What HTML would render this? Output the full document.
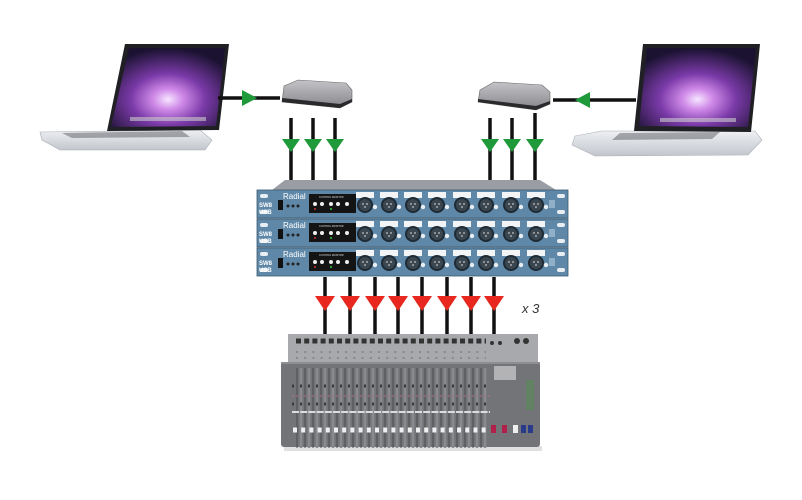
<!DOCTYPE html>
<html><head><meta charset="utf-8"><style>
html,body{margin:0;padding:0;background:#fff;}
svg{display:block;}
</style></head><body>
<svg width="802" height="500" viewBox="0 0 802 500" xmlns="http://www.w3.org/2000/svg" font-family="Liberation Sans, sans-serif">
<defs>
<radialGradient id="scr" cx="0.5" cy="0.65" r="0.65">
<stop offset="0" stop-color="#f6e6ff"/><stop offset="0.2" stop-color="#d08ae8"/><stop offset="0.5" stop-color="#7a3aa8"/><stop offset="1" stop-color="#1a1230"/>
</radialGradient>
<linearGradient id="base" x1="0" y1="0" x2="0" y2="1"><stop offset="0" stop-color="#eef0f3"/><stop offset="1" stop-color="#c2c6cc"/></linearGradient>
<linearGradient id="box" x1="0" y1="0" x2="0" y2="1"><stop offset="0" stop-color="#c4c4c8"/><stop offset="1" stop-color="#85858a"/></linearGradient>
<g id="xlr"><rect x="-9" y="-13" width="18" height="6" fill="#f2f4f6"/><circle r="8" fill="#1e2a34"/><circle r="6" fill="#3a4650"/><circle cx="-2" cy="-1" r="1" fill="#aaa"/><circle cx="2" cy="-1" r="1" fill="#aaa"/><circle cx="0" cy="2" r="1" fill="#aaa"/><circle cx="10" cy="2" r="2.2" fill="#e8eef2"/></g>
<g id="unit">
<rect x="257" y="0" width="311" height="28" fill="#5f88a8" stroke="#3c5a72" stroke-width="0.8"/>
<rect x="260" y="4" width="8" height="4" rx="2" fill="#e8eef2"/><rect x="260" y="20" width="8" height="4" rx="2" fill="#e8eef2"/>
<rect x="557" y="4" width="8" height="4" rx="2" fill="#e8eef2"/><rect x="557" y="20" width="8" height="4" rx="2" fill="#e8eef2"/>
<text x="259" y="17" font-size="6" font-weight="bold" fill="#fff">SW8</text><text x="259" y="24" font-size="6" font-weight="bold" fill="#fff">USB</text>
<rect x="278" y="10" width="5" height="10" fill="#111"/>
<text x="283" y="9" font-size="8" fill="#fff">Radial</text>
<circle cx="288" cy="16" r="1.5" fill="#222"/><circle cx="293" cy="16" r="1.5" fill="#222"/><circle cx="298" cy="16" r="1.5" fill="#222"/>
<rect x="309" y="4" width="47" height="19" fill="#141414"/>
<text x="319" y="8" font-size="2.5" fill="#ddd">CONTROL MONITOR</text>
<circle cx="315" cy="14" r="2" fill="#eee"/><circle cx="322" cy="14" r="2" fill="#eee"/><circle cx="331" cy="14" r="2" fill="#eee"/><circle cx="338" cy="14" r="2" fill="#eee"/><circle cx="347" cy="14" r="2" fill="#eee"/>
<circle cx="315" cy="19" r="1" fill="#c33"/><circle cx="331" cy="19" r="1" fill="#3c3"/>
<use href="#xlr" x="365" y="15"/><use href="#xlr" x="389" y="15"/><use href="#xlr" x="413" y="15"/><use href="#xlr" x="437" y="15"/>
<use href="#xlr" x="462" y="15"/><use href="#xlr" x="486" y="15"/><use href="#xlr" x="511" y="15"/><use href="#xlr" x="536" y="15"/>
<rect x="549" y="10" width="6" height="8" fill="#8fb0c8"/>
</g>
</defs>

<!-- left laptop -->
<polygon points="40,132 200,130 212,140 205,150 60,150 42,140" fill="url(#base)" stroke="#a8aeb6" stroke-width="0.6"/>
<polygon points="62,133 182,131 190,137 72,138" fill="#5a5c62" opacity="0.5"/>
<polygon points="125,44 229,44 219,130 107,131" fill="#202024"/>
<polygon points="129,48 225,48 216,126 111,127" fill="url(#scr)"/>
<rect x="130" y="117" width="76" height="4" fill="#ccc" opacity="0.6"/>
<!-- right laptop -->
<polygon points="575,136 602,131 755,131 762,140 748,155 595,156 572,145" fill="url(#base)" stroke="#a8aeb6" stroke-width="0.6"/>
<polygon points="620,133 720,132 712,139 612,140" fill="#5a5c62" opacity="0.5"/>
<polygon points="643,44 760,44 751,132 634,131" fill="#202024"/>
<polygon points="647,48 756,48 748,127 639,126" fill="url(#scr)"/>
<rect x="660" y="118" width="76" height="4" fill="#ccc" opacity="0.6"/>

<!-- connections top -->
<g stroke="#111" stroke-width="3.5">
<line x1="218" y1="98" x2="280" y2="98"/><line x1="553" y1="100" x2="636" y2="100"/>
<line x1="291" y1="118" x2="291" y2="184"/><line x1="313" y1="118" x2="313" y2="184"/><line x1="335" y1="118" x2="335" y2="184"/>
<line x1="490" y1="118" x2="490" y2="184"/><line x1="512" y1="118" x2="512" y2="184"/><line x1="535" y1="113" x2="535" y2="184"/>
</g>
<g fill="#1e9a3a">
<polygon points="242,90 242,106 257,98"/><polygon points="590,92 590,108 575,100"/>
<polygon points="282,139 300,139 291,152"/><polygon points="304,139 322,139 313,152"/><polygon points="326,139 344,139 335,152"/>
<polygon points="481,139 499,139 490,152"/><polygon points="503,139 521,139 512,152"/><polygon points="526,139 544,139 535,152"/>
</g>
<!-- interfaces -->
<polygon points="284,86 298,80 346,83 352,90 352,102 340,108 282,102" fill="url(#box)" stroke="#666" stroke-width="0.6"/>
<polygon points="282,98 340,104 352,99 352,102 340,108 282,102" fill="#2a2a2c"/>
<polygon points="480,90 494,82 542,85 550,92 550,104 536,110 478,102" fill="url(#box)" stroke="#666" stroke-width="0.6"/>
<polygon points="478,99 536,106 550,101 550,104 536,110 478,102" fill="#2a2a2c"/>

<!-- rack -->
<polygon points="272,190 285,180 540,180 556,190" fill="#9a9ea4"/>
<use href="#unit" y="190"/><use href="#unit" y="219"/><use href="#unit" y="248"/>

<!-- lines down -->
<g stroke="#111" stroke-width="3.5">
<line x1="325" y1="277" x2="325" y2="337"/><line x1="350" y1="277" x2="350" y2="337"/><line x1="375" y1="277" x2="375" y2="337"/><line x1="398" y1="277" x2="398" y2="337"/>
<line x1="422" y1="277" x2="422" y2="337"/><line x1="447" y1="277" x2="447" y2="337"/><line x1="471" y1="277" x2="471" y2="337"/><line x1="494" y1="277" x2="494" y2="337"/>
</g>
<g fill="#e8281e">
<polygon points="315,296 335,296 325,311"/><polygon points="340,296 360,296 350,311"/><polygon points="365,296 385,296 375,311"/><polygon points="388,296 408,296 398,311"/>
<polygon points="412,296 432,296 422,311"/><polygon points="437,296 457,296 447,311"/><polygon points="461,296 481,296 471,311"/><polygon points="484,296 504,296 494,311"/>
</g>
<text x="522" y="313" font-size="13" font-style="italic" fill="#333">x 3</text>

<!-- mixer -->
<rect x="284" y="446" width="258" height="5" fill="#ccc" opacity="0.6"/>
<rect x="288" y="334" width="250" height="30" fill="#a8a9ad"/>
<rect x="281" y="362" width="259" height="85" rx="3" fill="#737478"/>
<rect x="281" y="362" width="259" height="2" fill="#8d8e92"/>
<path d="M296 341h190" stroke="#333" stroke-width="5" stroke-dasharray="5 3.2"/>
<g stroke="#555" stroke-width="0.8">
<path d="M296 352h190M296 358h190" stroke-dasharray="2 6.2"/>
</g>
<path d="M301 368v80M309 368v80M317 368v80M325 368v80M333 368v80M341 368v80M349 368v80M357 368v80M365 368v80M373 368v80M381 368v80M389 368v80M397 368v80M405 368v80M413 368v80M421 368v80M429 368v80M437 368v80M445 368v80M453 368v80M461 368v80M469 368v80M477 368v80M485 368v80" stroke="#8a8b8f" stroke-width="2.5"/>
<g stroke="#4a4b4f" stroke-width="1">
<path d="M297 368v80M305 368v80M313 368v80M321 368v80M329 368v80M337 368v80M345 368v80M353 368v80M361 368v80M369 368v80M377 368v80M385 368v80M393 368v80M401 368v80M409 368v80M417 368v80M425 368v80M433 368v80M441 368v80M449 368v80M457 368v80M465 368v80M473 368v80M481 368v80"/>
</g>
<path d="M292 396h200" stroke="#b07080" stroke-width="1" stroke-dasharray="2 2"/>
<path d="M292 386h200" stroke="#3a3b3f" stroke-width="3" stroke-dasharray="2 6"/>
<path d="M292 404h200" stroke="#3a3b3f" stroke-width="3" stroke-dasharray="2 6"/>
<path d="M292 412h198" stroke="#ddd" stroke-width="2" stroke-dasharray="7 1.2"/>
<path d="M293 430h196" stroke="#f0f0f0" stroke-width="5" stroke-dasharray="4 4.2"/>
<rect x="494" y="366" width="22" height="14" fill="#ddd" opacity="0.6"/>
<rect x="526" y="380" width="8" height="30" fill="#5a8a5a" opacity="0.7"/>
<rect x="491" y="425" width="5" height="8" fill="#b0204a"/><rect x="502" y="425" width="5" height="8" fill="#b0204a"/>
<rect x="513" y="425" width="5" height="8" fill="#eee"/>
<rect x="521" y="425" width="5" height="8" fill="#2a3a8a"/><rect x="528" y="425" width="5" height="8" fill="#2a3a8a"/>
<circle cx="492" cy="343" r="2" fill="#333"/><circle cx="500" cy="343" r="2" fill="#333"/><circle cx="517" cy="341" r="3" fill="#333"/><circle cx="526" cy="341" r="3" fill="#333"/>
</svg>
</body></html>
